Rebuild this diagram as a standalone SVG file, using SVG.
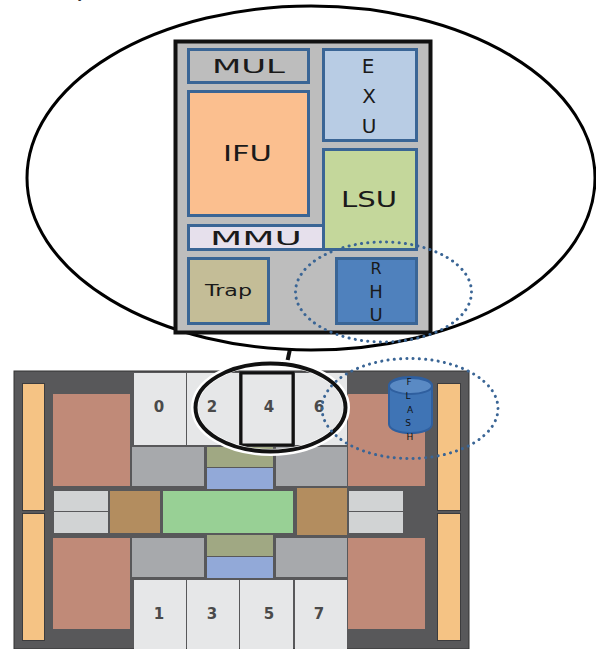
<svg xmlns="http://www.w3.org/2000/svg" width="596" height="649" viewBox="0 0 596 649">
<style>
text{font-family:"DejaVu Sans","Liberation Sans",sans-serif;fill:#1a1a1a;text-anchor:middle}
.u{stroke:#3a6595;stroke-width:3}
.lbl{font-size:20px}
.bar{fill:#f5c384;stroke:#3c3c3e;stroke-width:1}
.pink{fill:#c08a78}
.gray{fill:#a7a9ac}
.olive{fill:#a0a883}
.blue{fill:#92a9d8}
.brown{fill:#b38d5f}
.lg{fill:#d1d3d4}
.core{fill:#e6e7e8}
.num{font-size:15px;font-weight:bold;fill:#4a4a4a}
.dot{fill:none;stroke:#3a6595;stroke-width:3;stroke-linecap:round;stroke-dasharray:0.1 6.2}
.fl{font-size:9px;fill:#111}
</style>
<rect width="596" height="649" fill="#fff"/>
<text x="82" y="-3" style="font-family:'Liberation Serif',serif;font-size:16px;fill:#000">y</text>
<g id="connectors">
<path d="M290 349L287 363" fill="none" stroke="#111" stroke-width="4"/>
</g>
<g id="zoom-ellipse"><ellipse cx="311" cy="178" rx="284" ry="172" fill="#fff" stroke="#000" stroke-width="3"/></g>
<g id="core-detail"><rect x="175.500" y="41.500" width="255" height="291" fill="#bdbdbd" stroke="#111" stroke-width="4"/></g>
<g id="MUL"><rect class="u" x="188.500" y="49.500" width="120" height="33" fill="#bdbdbd"/><text class="lbl" x="248.500" y="73" textLength="73" lengthAdjust="spacingAndGlyphs">MUL</text></g>
<g id="EXU"><rect class="u" x="323.500" y="49.500" width="93" height="91" fill="#b8cce4"/><text class="lbl" x="368" y="73">E</text><text class="lbl" x="369" y="103">X</text><text class="lbl" x="369" y="133">U</text></g>
<g id="IFU"><rect class="u" x="188.500" y="91.500" width="120" height="124" fill="#fbbf8f"/><text class="lbl" x="247.500" y="161" style="font-size:22px" textLength="49" lengthAdjust="spacingAndGlyphs">IFU</text></g>
<g id="MMU"><rect class="u" x="188.500" y="225.500" width="135" height="24" fill="#e6e0ec"/><text class="lbl" x="256" y="245" textLength="92" lengthAdjust="spacingAndGlyphs">MMU</text></g>
<g id="LSU"><rect class="u" x="323.500" y="149.500" width="93" height="100" fill="#c4d79b"/><text class="lbl" x="369" y="207" style="font-size:22px" textLength="56" lengthAdjust="spacingAndGlyphs">LSU</text></g>
<g id="Trap"><rect class="u" x="188.500" y="258.500" width="80" height="65" fill="#c4bd97"/><text x="228.500" y="296" style="font-size:15px" textLength="47" lengthAdjust="spacingAndGlyphs">Trap</text></g>
<g id="RHU"><rect class="u" x="336.500" y="258.500" width="80" height="65" fill="#4f81bd"/><text x="376" y="274" style="font-size:16px">R</text><text x="376" y="298" style="font-size:18px">H</text><text x="376" y="321" style="font-size:18px">U</text></g>
<g id="rhu-highlight"><ellipse class="dot" cx="383.500" cy="292" rx="88" ry="50"/></g>
<g id="chip">
<rect x="14" y="371" width="455" height="278" fill="#58585a" stroke="#333" stroke-width="1"/>
<rect class="bar" x="22.500" y="383.500" width="22" height="127"/>
<rect class="bar" x="22.500" y="513.500" width="22" height="127"/>
<rect class="bar" x="437.500" y="383.500" width="23" height="127"/>
<rect class="bar" x="437.500" y="513.500" width="23" height="127"/>
<rect class="pink" x="53" y="394" width="77" height="92"/>
<rect class="pink" x="53" y="538" width="77" height="91"/>
<rect class="pink" x="348" y="394" width="77" height="92"/>
<rect class="pink" x="348" y="538" width="77" height="91"/>
<rect class="gray" x="132" y="447" width="72" height="39"/>
<rect class="gray" x="276" y="447" width="71" height="39"/>
<rect class="gray" x="132" y="538" width="72" height="39"/>
<rect class="gray" x="276" y="538" width="71" height="39"/>
<rect class="olive" x="207" y="447" width="66" height="20"/>
<rect class="blue" x="207" y="468" width="66" height="21"/>
<rect class="olive" x="207" y="535" width="66" height="21"/>
<rect class="blue" x="207" y="557" width="66" height="21"/>
<rect x="163" y="491" width="130" height="42" fill="#98d095"/>
<rect class="brown" x="110" y="491" width="50" height="42"/>
<rect class="brown" x="297" y="488" width="50" height="47"/>
<rect class="lg" x="54" y="491" width="54" height="20"/>
<rect class="lg" x="54" y="512" width="54" height="21"/>
<rect class="lg" x="349" y="491" width="54" height="20"/>
<rect class="lg" x="349" y="512" width="54" height="21"/>
</g>
<g id="core0"><rect class="core" x="134" y="373" width="52" height="72"/><text class="num" x="159" y="412">0</text></g>
<g id="core2"><rect class="core" x="187" y="373" width="52" height="72"/><text class="num" x="212" y="412">2</text></g>
<g id="core6"><rect class="core" x="295" y="373" width="52" height="72"/><text class="num" x="319" y="412">6</text></g>
<g id="core4"><rect class="core" x="241" y="373" width="52" height="72" stroke="#111" stroke-width="3"/><text class="num" x="269" y="412">4</text></g>
<g id="core1"><rect class="core" x="134" y="580" width="52" height="69"/><text class="num" x="159" y="619">1</text></g>
<g id="core3"><rect class="core" x="187" y="580" width="52" height="69"/><text class="num" x="212" y="619">3</text></g>
<g id="core5"><rect class="core" x="240" y="580" width="53" height="69"/><text class="num" x="269" y="619">5</text></g>
<g id="core7"><rect class="core" x="295" y="580" width="52" height="69"/><text class="num" x="319" y="619">7</text></g>
<g id="core-circle"><ellipse cx="270.500" cy="407.500" rx="76" ry="45" fill="none" stroke="#fff" stroke-width="7"/><ellipse cx="270.500" cy="407.500" rx="75" ry="44" fill="none" stroke="#111" stroke-width="4"/></g>
<g id="FLASH"><path d="M389 386V424C389 436 432 436 432 424V386C432 374 389 374 389 386Z" fill="#3f74b5" stroke="#2f5f9f" stroke-width="2"/><ellipse cx="410.500" cy="386" rx="21.500" ry="8" fill="#5a8ac4" stroke="#2f5f9f" stroke-width="2"/><text class="fl" x="409" y="385">F</text><text class="fl" x="408" y="399">L</text><text class="fl" x="410" y="413">A</text><text class="fl" x="408" y="426">S</text><text class="fl" x="410" y="440">H</text></g>
<g id="flash-highlight"><ellipse class="dot" cx="410" cy="408.500" rx="88" ry="50"/></g>
</svg>
